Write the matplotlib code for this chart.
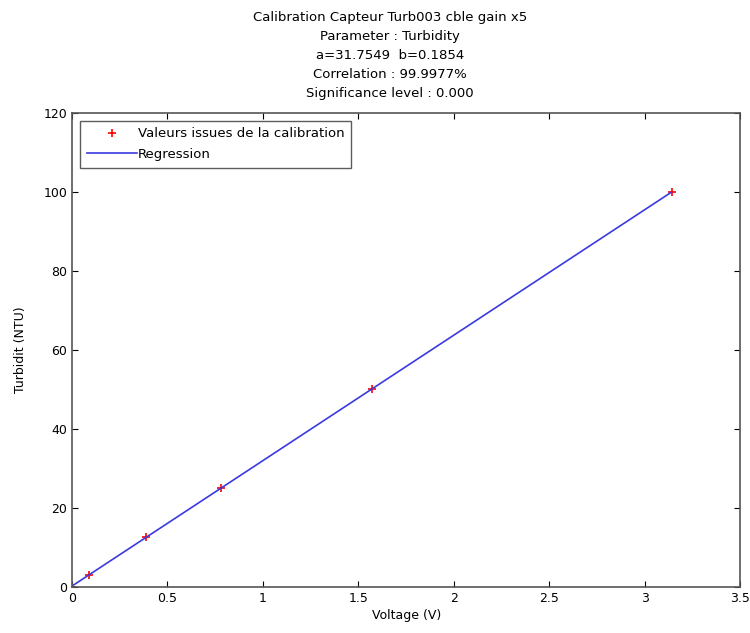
import matplotlib.pyplot as plt
import numpy as np

# calibration points
voltage = [0.0, 0.09, 0.39, 0.78, 1.57, 3.14]
turbidity = [0.0, 3.0, 12.5, 25.0, 50.0, 100.0]

# regression coefficients shown in the title
a_coef = 31.7549
b_coef = 0.1854

title_lines = [
    "Calibration Capteur Turb003 cble gain x5",
    "Parameter : Turbidity",
    "a=31.7549  b=0.1854",
    "Correlation : 99.9977%",
    "Significance level : 0.000",
]

fig = plt.figure(figsize=(7.5, 6.33), dpi=100)
ax = fig.add_axes([0.096, 0.073, 0.891, 0.749])

x_fit = np.array([voltage[0], voltage[-1]])
y_fit = a_coef * x_fit + b_coef

ax.plot(voltage, turbidity, "+", color="red", markersize=6, mew=1.2,
        label="Valeurs issues de la calibration")
ax.plot(x_fit, y_fit, "-", color="#3a3ae0", lw=1.2, label="Regression")

ax.set_xlim(0, 3.5)
ax.set_ylim(0, 120)
ax.set_xticks([0, 0.5, 1, 1.5, 2, 2.5, 3, 3.5])
ax.set_xticklabels(["0", "0.5", "1", "1.5", "2", "2.5", "3", "3.5"])
ax.set_yticks([0, 20, 40, 60, 80, 100, 120])
ax.tick_params(direction="in", labelsize=9, length=4, top=True, right=True)
for s in ax.spines.values():
    s.set_color("#555555")
    s.set_linewidth(1.2)

ax.set_xlabel("Voltage (V)", fontsize=9, labelpad=3)
ax.set_ylabel("Turbidit (NTU)", fontsize=9, labelpad=12)

leg = ax.legend(loc="upper left", fontsize=9.5, frameon=True, fancybox=False,
                edgecolor="#333333", borderaxespad=0.6, handlelength=3.8,
                handletextpad=0.1, labelspacing=0.6, borderpad=0.5)
leg.get_frame().set_linewidth(1.0)

fig.text(0.52, 0.983, "\n".join(title_lines), ha="center", va="top",
         fontsize=9.5, linespacing=1.6)

fig.savefig("out.png", dpi=100)
